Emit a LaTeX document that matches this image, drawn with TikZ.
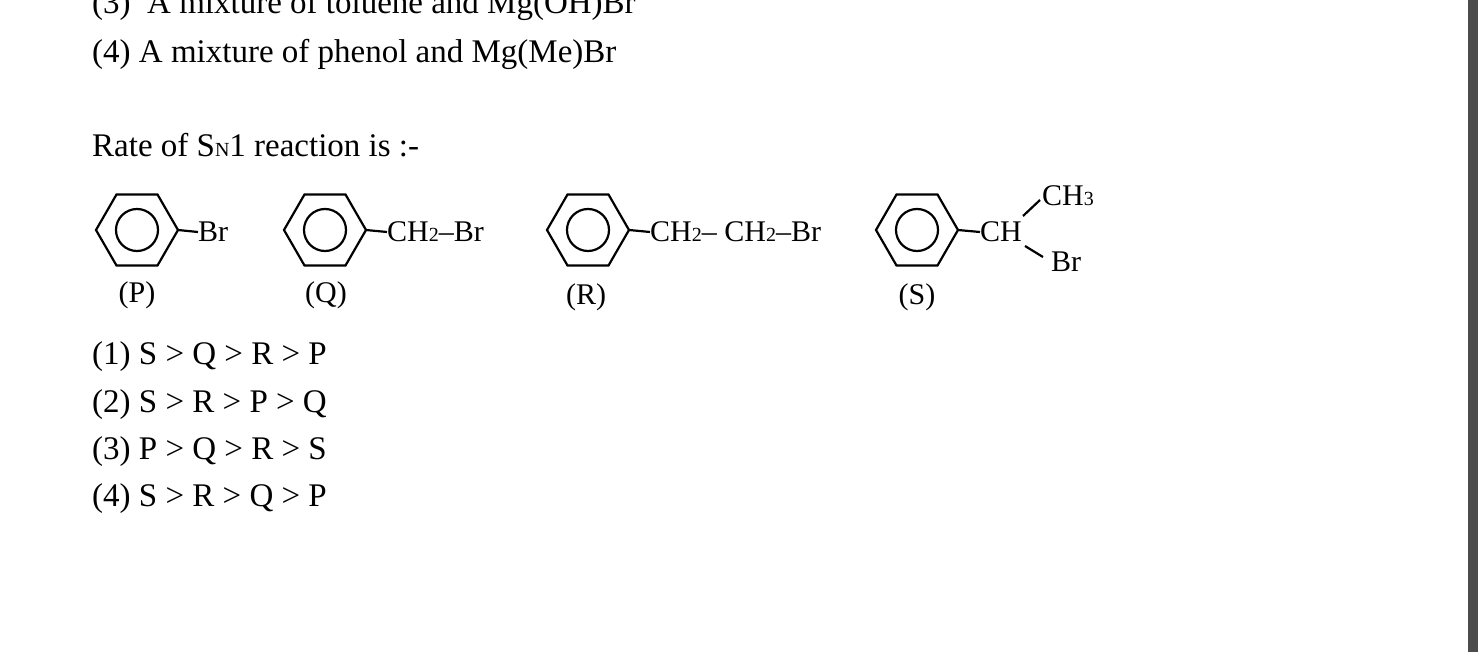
\documentclass[tikz,border=0pt]{standalone}
\usepackage{fontspec}
\setmainfont{Liberation Serif}
\begin{document}
\begin{tikzpicture}[x=1pt,y=-1pt,
  txt/.style={anchor=base west,inner sep=0pt,font=\fontsize{33}{33}\selectfont},
  chem/.style={inner sep=0pt,font=\fontsize{30}{30}\selectfont},
  bond/.style={line width=2.2pt}]
\useasboundingbox (0,0) rectangle (1481,652);
\fill[black!70] (1468,0) rectangle (1478,652);
\node[txt] (l3) at (92,14) {(3)\ \ A mixture of toluene and Mg(OH)Br};
\node[txt] (l4) at (92,63) {(4) A mixture of phenol and Mg(Me)Br};
\node[txt] (q) at (92,157) {Rate of S{\fontsize{20}{20}\selectfont N}1 reaction is :-};
\foreach \n/\cx in {P/137,Q/325,R/588,S/917}{
  \draw[bond] (\cx,230) ++(0:41) -- ++(120:41) -- ++(180:41) -- ++(240:41) -- ++(300:41) -- ++(0:41) -- cycle;
  \draw[bond] (\cx,230) circle (21);
  \coordinate (v\n) at (\cx+41,230);
}
\node[chem,anchor=west] (bP) at (198,232) {Br};
\draw[bond] (vP) -- (bP.west);
\node[chem,anchor=west] (bQ) at (387,232) {CH{\fontsize{20}{20}\selectfont 2}--Br};
\draw[bond] (vQ) -- (bQ.west);
\node[chem,anchor=west] (bR) at (650,232) {CH{\fontsize{20}{20}\selectfont 2}-- CH{\fontsize{20}{20}\selectfont 2}--Br};
\draw[bond] (vR) -- (bR.west);
\node[chem,anchor=west] (bS) at (980,232) {CH};
\draw[bond] (vS) -- (bS.west);
\node[chem,anchor=west] (me) at (1042,196) {CH{\fontsize{20}{20}\selectfont 3}};
\node[chem,anchor=west] (br) at (1051,262) {Br};
\draw[bond] (1023,216) -- (1040,200);
\draw[bond] (1025,246) -- (1043,257);
\node[chem] (lP) at (137,295) {(P)};
\node[chem] (lQ) at (326,295) {(Q)};
\node[chem] (lR) at (586,297) {(R)};
\node[chem] (lS) at (917,297) {(S)};
\node[txt] (o1) at (92,365) {(1) S > Q > R > P};
\node[txt] (o2) at (92,412) {(2) S > R > P > Q};
\node[txt] (o3) at (92,459) {(3) P > Q > R > S};
\node[txt] (o4) at (92,506) {(4) S > R > Q > P};
\end{tikzpicture}
\end{document}
